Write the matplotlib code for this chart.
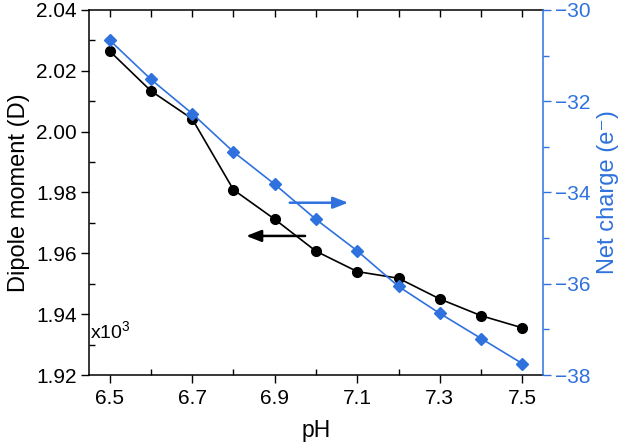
import matplotlib
matplotlib.use("Agg")
import matplotlib.pyplot as plt
from matplotlib.ticker import MultipleLocator

plt.rcParams['font.family'] = ['Liberation Sans', 'DejaVu Sans']
plt.rcParams['mathtext.fontset'] = 'custom'
plt.rcParams['mathtext.rm'] = 'Liberation Sans'
plt.rcParams['mathtext.it'] = 'Liberation Sans'

# data
ph = [6.5, 6.6, 6.7, 6.8, 6.9, 7.0, 7.1, 7.2, 7.3, 7.4, 7.5]
dipole = [2.0265, 2.0134, 2.0042, 1.9809, 1.9712, 1.9607, 1.9540, 1.9518, 1.9450, 1.9395, 1.9355]
charge = [-30.66, -31.52, -32.27, -33.11, -33.82, -34.59, -35.28, -36.06, -36.65, -37.20, -37.75]

xticks = [6.5, 6.7, 6.9, 7.1, 7.3, 7.5]

blue = "#2f72de"

fig = plt.figure(figsize=(6.25, 4.44), dpi=100)
ax = fig.add_axes([0.1424, 0.1554, 0.7264, 0.8221])
ax2 = ax.twinx()

ax.plot(ph, dipole, color="black", lw=1.2, marker="o", ms=7, zorder=3)
ax2.plot(ph, charge, color=blue, lw=1.2, marker="D", ms=6.5, zorder=3)

ax.set_xlim(6.45, 7.55)
ax.set_ylim(1.92, 2.04)
ax2.set_ylim(-38, -30)

ax.set_xticks(xticks)
ax.xaxis.set_minor_locator(MultipleLocator(0.1))
ax.yaxis.set_major_locator(MultipleLocator(0.02))
ax.yaxis.set_minor_locator(MultipleLocator(0.01))
ax.yaxis.set_major_formatter(plt.FormatStrFormatter('%.2f'))
ax2.yaxis.set_major_locator(MultipleLocator(2))
ax2.yaxis.set_minor_locator(MultipleLocator(1))

fs_tick = 15
ax.tick_params(axis='x', which='major', direction='out', length=6, width=1, labelsize=fs_tick, pad=4)
ax.tick_params(axis='x', which='minor', direction='in', length=4, width=1)
ax.tick_params(axis='x', which='both', top=True)
ax.tick_params(axis='y', which='major', direction='out', length=6, width=1, labelsize=fs_tick, pad=3)
ax.tick_params(axis='y', which='minor', direction='in', length=4, width=1)
ax.tick_params(axis='y', which='both', right=False)
ax2.tick_params(axis='y', which='major', direction='out', length=6, width=1,
                labelsize=fs_tick, colors=blue, pad=3)
ax2.tick_params(axis='y', which='minor', direction='out', length=4, width=1, colors=blue)

# top ticks point inward
for t in ax.xaxis.get_major_ticks() + ax.xaxis.get_minor_ticks():
    t.tick2line.set_marker(3)
    t.tick2line.set_markersize(5)

for s in ['left', 'top', 'bottom']:
    ax.spines[s].set_linewidth(1.1)
ax2.spines['right'].set_color(blue)
ax2.spines['right'].set_linewidth(1.1)
ax.spines['right'].set_visible(False)
for s in ['left', 'top', 'bottom']:
    ax2.spines[s].set_visible(False)

ax.set_xlabel("pH", fontsize=16.5, labelpad=8)
ax.set_ylabel("Dipole moment (D)", fontsize=17, labelpad=4)
ax2.set_ylabel("Net charge (e⁻)", fontsize=17, color=blue, labelpad=4)

ax.text(0.003, 0.09, "x10$^{3}$", transform=ax.transAxes, fontsize=14, ha='left', va='bottom')

ax.annotate("", xy=(0.34, 0.381), xytext=(0.482, 0.381), xycoords='axes fraction',
            arrowprops=dict(arrowstyle="-|>,head_length=0.9,head_width=0.35", color="black", lw=1.8))
ax.annotate("", xy=(0.577, 0.472), xytext=(0.436, 0.472), xycoords='axes fraction',
            arrowprops=dict(arrowstyle="-|>,head_length=0.9,head_width=0.35", color=blue, lw=1.8))

fig.savefig("out.png", dpi=100)
